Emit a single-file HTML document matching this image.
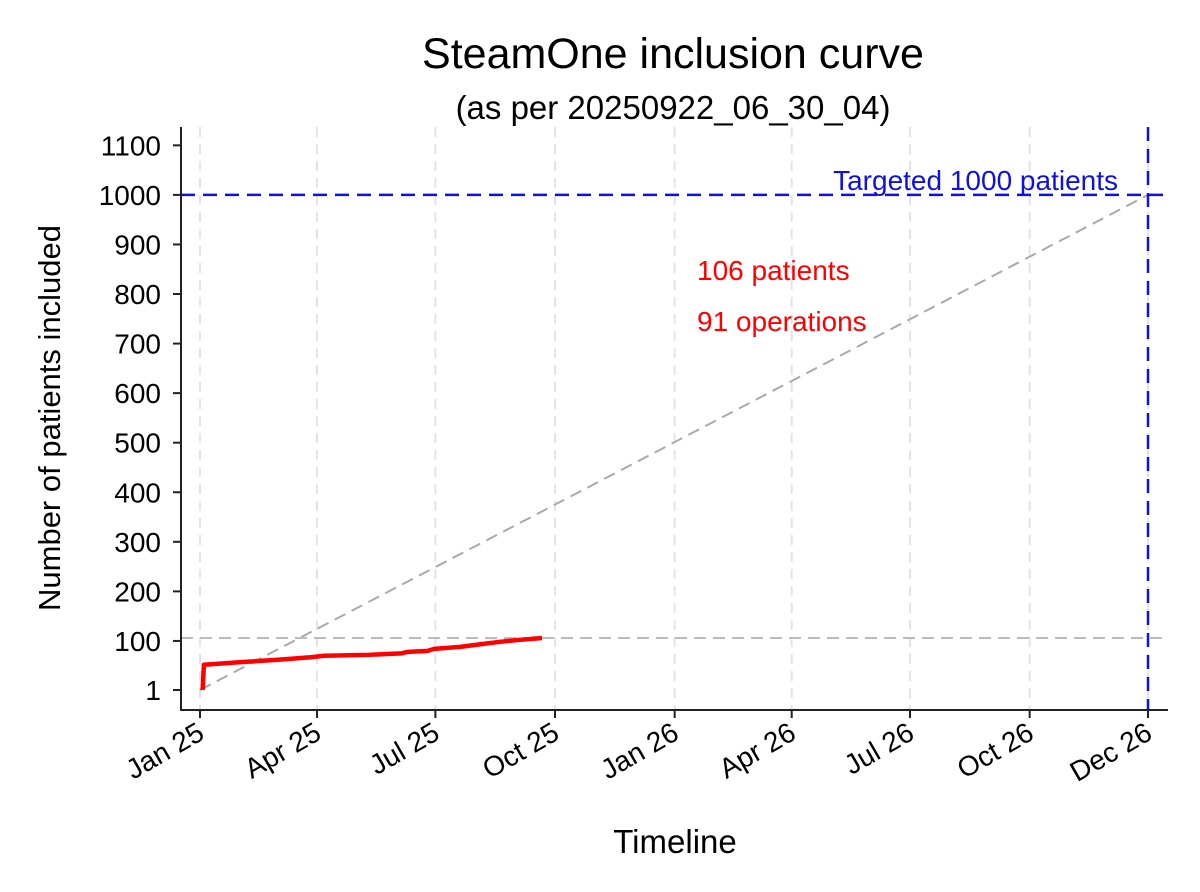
<!DOCTYPE html>
<html><head><meta charset="utf-8"><style>
body{margin:0;background:#fff}
svg{display:block;font-family:"Liberation Sans",Arial,sans-serif}
</style></head><body>
<svg id="chart" width="1200" height="892" viewBox="0 0 1200 892">
<text x="673" y="68" font-size="43" text-anchor="middle">SteamOne inclusion curve</text>
<text x="673" y="119" font-size="33" text-anchor="middle">(as per 20250922_06_30_04)</text>
<text transform="translate(60,418) rotate(-90)" font-size="31" text-anchor="middle">Number of patients included</text>
<text x="675" y="853" font-size="33" text-anchor="middle">Timeline</text>
<g id="grid"></g><g id="marks"></g><g id="axes"></g>
</svg>
<script>
const yTicks=[1,100,200,300,400,500,600,700,800,900,1000,1100];
const xTickDays=[0,90,181,273,365,455,546,638,729];
const xTickLabels=["Jan 25","Apr 25","Jul 25","Oct 25","Jan 26","Apr 26","Jul 26","Oct 26","Dec 26"];
const seriesDays=[2,3,30,60,85,95,130,155,160,175,180,200,215,230,245,263];
const seriesValues=[1,52,57,62,67,70,72,75,78,80,84,88,93,98,102,106];
const target=1000, current=106, endDay=729;
const X=d=>200+d*(1148-200)/729;
const Y=v=>690-(v-1)*0.4956;
const ns="http://www.w3.org/2000/svg";
function mk(p,t,a){const e=document.createElementNS(ns,t);for(const k in a)e.setAttribute(k,a[k]);document.getElementById(p).appendChild(e);return e;}
xTickDays.forEach((d,i)=>{
 const g=mk('grid','line',{x1:X(d),x2:X(d),y1:127,y2:710,stroke:'#e4e4e4','stroke-width':2,'stroke-dasharray':'10 7'});
 
 
 const t=mk('axes','line',{x1:X(d),x2:X(d),y1:710,y2:718,stroke:'#222','stroke-width':2});
 
 
 const l=mk('axes','text',{transform:`translate(${X(d)+6},738) rotate(-30)`,'font-size':28,'text-anchor':'end'});
 l.textContent=xTickLabels[i];
 
 
});
yTicks.forEach(v=>{
 const t=mk('axes','line',{x1:173,x2:181,y1:Y(v),y2:Y(v),stroke:'#222','stroke-width':2});
 
 
 const l=mk('axes','text',{x:161,y:Y(v)+10,'font-size':28,'text-anchor':'end'});
 l.textContent=v;
 
 
});
let e;
e=mk('marks','line',{x1:X(0),y1:Y(1),x2:X(endDay),y2:Y(target),stroke:'#aaa','stroke-width':2,'stroke-dasharray':'12 7'});


e=mk('marks','line',{x1:181,x2:1168,y1:Y(current),y2:Y(current),stroke:'#bbb','stroke-width':2,'stroke-dasharray':'12 7'});


e=mk('marks','line',{x1:181,x2:1168,y1:Y(target),y2:Y(target),stroke:'#1010e0','stroke-width':2.5,'stroke-dasharray':'14 8'});


e=mk('marks','line',{x1:X(endDay),x2:X(endDay),y1:127,y2:710,stroke:'#1010e0','stroke-width':2.5,'stroke-dasharray':'14 8'});


let dstr="";
seriesDays.forEach((d,i)=>{dstr+=(i?'L':'M')+X(d)+','+Y(seriesValues[i]);});
e=mk('marks','path',{d:dstr,fill:'none',stroke:'#ff0000','stroke-width':4.5,'stroke-linejoin':'round'});


e=mk('marks','text',{x:1118,y:190,'font-size':28,fill:'#1010e0','text-anchor':'end'});
e.textContent='Targeted 1000 patients';


e=mk('marks','text',{x:697,y:280,'font-size':28,fill:'#ff0000'});
e.textContent='106 patients';


e=mk('marks','text',{x:697,y:331,'font-size':28,fill:'#ff0000'});
e.textContent='91 operations';


e=mk('axes','path',{d:'M181,127L181,710L1168,710',fill:'none',stroke:'#222','stroke-width':2});


</script>
</body></html>
